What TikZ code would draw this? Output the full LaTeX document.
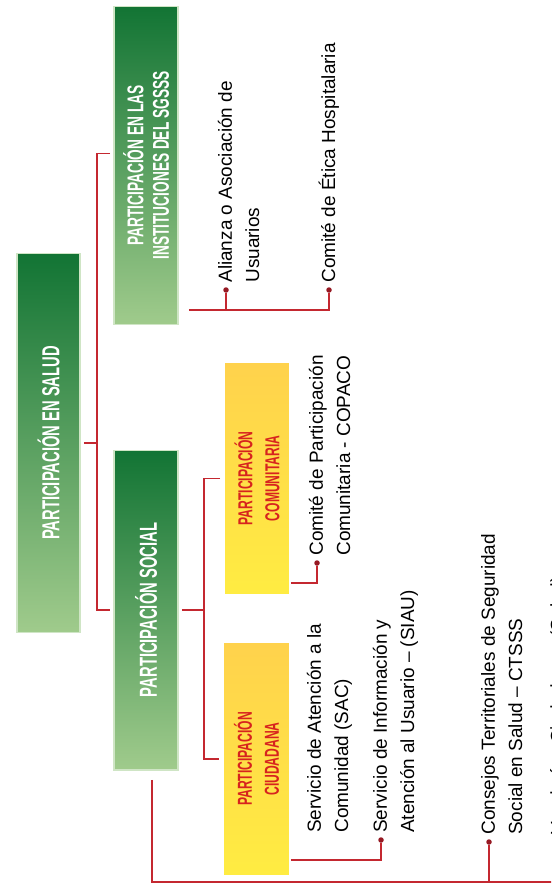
\documentclass[tikz,border=0pt]{standalone}
\usepackage{fontspec}
\setmainfont{Liberation Sans}
\newfontfamily\headfont[FakeStretch=0.6]{Liberation Sans}
\usetikzlibrary{calc, positioning}
\definecolor{darkgreen}{RGB}{18, 116, 52}
\definecolor{lightgreen}{RGB}{160, 203, 140}
\definecolor{deepyellow}{RGB}{255, 210, 76}
\definecolor{paleyellow}{RGB}{255, 236, 66}
\definecolor{linkred}{RGB}{196, 40, 48}
\definecolor{dotred}{RGB}{150, 25, 35}
\definecolor{titlered}{RGB}{215, 35, 30}
\tikzstyle{greenbox} = [
    rectangle,
    rotate=90,
    draw=lightgreen!50!white,
    line width=0.6pt,
    top color=darkgreen,
    bottom color=lightgreen,
    text=white,
    align=center,
    inner sep=0pt,
    outer sep=0.08cm,
    font=\headfont\bfseries\fontsize{14}{16}\selectfont
]
\tikzstyle{yellowbox} = [
    rectangle,
    rotate=90,
    top color=deepyellow,
    bottom color=paleyellow,
    text=titlered,
    align=center,
    inner sep=0pt,
    outer sep=0.1cm,
    font=\headfont\bfseries\fontsize{11.5}{15.3}\selectfont
]
\tikzstyle{itemtext} = [
    rotate=90,
    anchor=base west,
    align=left,
    inner sep=0pt,
    font=\fontsize{10.8}{15.5}\selectfont
]
\tikzstyle{itemdot} = [
    circle,
    fill=dotred,
    inner sep=0pt,
    minimum size=0.11cm
]
\tikzstyle{link} = [
    draw=linkred,
    line width=0.7pt
]
\begin{document}
\begin{tikzpicture}[x=0.02cm, y=-0.02cm]
\useasboundingbox (0,0) rectangle (551,885);
\clip (0,0) rectangle (551,885);

% Root
\node[greenbox, minimum width=7.6cm, minimum height=1.26cm] (salud) at (48.5,443) {PARTICIPACIÓN EN SALUD};

% Level 1 boxes
\node[greenbox, minimum width=6.38cm, minimum height=1.28cm, font=\headfont\bfseries\fontsize{13}{14.5}\selectfont] (instit) at (146,165.5) {PARTICIPACIÓN EN LAS\\INSTITUCIONES DEL SGSSS};
\node[greenbox, minimum width=6.4cm, minimum height=1.28cm] (social) at (146,610) {PARTICIPACIÓN SOCIAL};

% Level 2 boxes
\node[yellowbox, minimum width=4.62cm, minimum height=1.28cm] (comunit) at (257,478.5) {PARTICIPACIÓN\\COMUNITARIA};
\node[yellowbox, minimum width=4.64cm, minimum height=1.3cm] (ciudad) at (256.5,759) {PARTICIPACIÓN\\CIUDADANA};

% Root connectors
\coordinate (trunk) at (97,443);
\draw[link] (salud.south) -- (salud.south -| trunk);
\draw[link] ($(instit.north)+(0,-12)$) -| (trunk |- social.north) -- (social.north);

% Social connectors
\coordinate (branch) at (204,610);
\draw[link] (social.south) -- (branch);
\draw[link] (comunit.north) -| (branch |- ciudad.north) -- (ciudad.north);

% Institutions items (two-line texts sit on their last baseline)
\node[itemdot] (dalianza) at (226,290) {};
\node[itemdot] (dcomite) at (329,290) {};
\coordinate (instout) at ($(instit.south west)+(7,-19)$);
\draw[link] (instout) -| (dcomite);
\draw[link] (dalianza) -- (dalianza |- instout);
\node[itemtext] (alianza) at ($(dalianza)+(33,-7)$) {Alianza o Asociación de\\Usuarios};
\node[itemtext] (comite) at ($(dcomite)+(6,-7)$) {Comité de Ética Hospitalaria};

% Comunitaria items
\node[itemdot] (dcopaco) at (317,563) {};
\coordinate (comout) at ($(comunit.south west)+(-3,-16)$);
\draw[link] (comout) -| (dcopaco);
\node[itemtext] (copaco) at ($(dcopaco)+(33,-7)$) {Comité de Participación\\Comunitaria - COPACO};

% Ciudadana items
\node[itemtext] (sac) at (348,833) {Servicio de Atención a la\\Comunidad (SAC)};
\node[itemdot] (dsiau) at (381,840) {};
\coordinate (ciuout) at ($(ciudad.south west)+(-3,-20)$);
\draw[link] (ciuout) -| (dsiau);
\node[itemtext] (siau) at ($(dsiau)+(33,-7)$) {Servicio de Información y\\Atención al Usuario – (SIAU)};

% Bottom row
\coordinate (socdown) at ($(social.west)+(6,6)$);
\coordinate (bottombus) at (socdown |- 0,882);
\node[itemdot] (dctsss) at (489,842) {};
\node[itemdot] (dveed) at (564,842) {};
\draw[link] (socdown) -- (bottombus) -| (dveed);
\draw[link] (dctsss) -- (dctsss |- bottombus);
\node[itemtext] (ctsss) at ($(dctsss)+(33,-7)$) {Consejos Territoriales de Seguridad\\Social en Salud – CTSSS};
\node[itemtext] (veed) at ($(dveed)+(0,-7)$) {Veedurías Ciudadanas (Salud)};

\end{tikzpicture}
\end{document}
